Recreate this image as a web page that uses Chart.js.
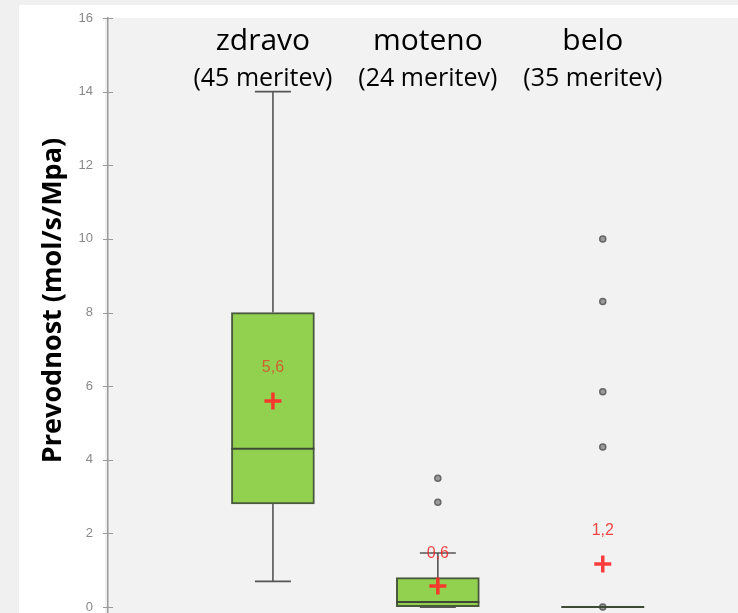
<!DOCTYPE html>
<html>
<head>
<meta charset="utf-8">
<script src="https://cdn.jsdelivr.net/npm/chart.js@4.4.0/dist/chart.umd.min.js"></script>
<style>
html, body { margin: 0; padding: 0; background: #f0f0f0; }
</style>
</head>
<body>
<canvas id="box" width="738" height="613"></canvas>
<script>
// skupine listov
var skupine = ["zdravo", "moteno", "belo"];
var meritve = ["(45 meritev)", "(24 meritev)", "(35 meritev)"];

// statistika za boxplot
var q1 = [2.8, 0, 0];
var mediana = [4.3, 0.14, 0];
var q3 = [8.0, 0.8, 0];
var brkSpodaj = [0.7, 0, 0];
var brkZgoraj = [14, 1.47, 0];
var povprecje = [5.6, 0.57, 1.17];
var osamelci = [[], [3.5, 2.85], [10, 8.3, 5.85, 4.35, 0]];

var yTicks = [0, 2, 4, 6, 8, 10, 12, 14, 16];

// risanje ozadja, brkov, median in napisov
var risalnik = {
    id: "risalnik",
    beforeDraw: function (chart) {
        var ctx = chart.ctx, a = chart.chartArea;
        ctx.save();
        ctx.fillStyle = "#f0f0f0";
        ctx.fillRect(0, 0, chart.width, chart.height);
        ctx.fillStyle = "#ffffff";
        ctx.fillRect(19, 5, chart.width - 19, a.top - 5);
        ctx.fillRect(19, 5, a.left - 22, chart.height - 5);
        ctx.fillStyle = "#f2f2f2";
        ctx.fillRect(a.left, a.top, a.right - a.left, a.bottom - a.top);
        ctx.restore();
    },
    beforeDatasetsDraw: function (chart) {
        var ctx = chart.ctx, x = chart.scales.x, y = chart.scales.y;
        ctx.save();
        ctx.strokeStyle = "#555555";
        ctx.lineWidth = 1.6;
        skupine.forEach(function (s, i) {
            var cx = x.getPixelForValue(i + 1);
            ctx.beginPath();
            ctx.moveTo(cx, y.getPixelForValue(brkZgoraj[i]));
            ctx.lineTo(cx, y.getPixelForValue(q3[i]));
            ctx.moveTo(cx, y.getPixelForValue(q1[i]));
            ctx.lineTo(cx, y.getPixelForValue(brkSpodaj[i]));
            [brkZgoraj[i], brkSpodaj[i]].forEach(function (v) {
                var py = y.getPixelForValue(v);
                ctx.moveTo(cx - 18, py);
                ctx.lineTo(cx + 18, py);
            });
            ctx.stroke();
        });
        ctx.restore();
    },
    afterDatasetsDraw: function (chart) {
        var ctx = chart.ctx, y = chart.scales.y;
        var meta = chart.getDatasetMeta(2);
        ctx.save();
        ctx.strokeStyle = "#3f4a36";
        ctx.lineWidth = 2;
        meta.data.forEach(function (bar, i) {
            var py = y.getPixelForValue(mediana[i]);
            ctx.beginPath();
            ctx.moveTo(bar.x - bar.width / 2, py);
            ctx.lineTo(bar.x + bar.width / 2, py);
            ctx.stroke();
        });
        ctx.restore();
    },
    afterDraw: function (chart) {
        var ctx = chart.ctx, a = chart.chartArea, x = chart.scales.x, y = chart.scales.y;
        ctx.save();
        // kljukice na osi
        ctx.strokeStyle = "#9a9a9a";
        ctx.lineWidth = 1;
        yTicks.forEach(function (v) {
            var py = Math.round(y.getPixelForValue(v)) + 0.5;
            ctx.beginPath();
            ctx.moveTo(a.left - 5, py);
            ctx.lineTo(a.left + 5, py);
            ctx.stroke();
        });
        // povprecja
        ctx.font = "16px 'Liberation Sans'";
        ctx.textAlign = "center";
        ctx.textBaseline = "middle";
        povprecje.forEach(function (v, i) {
            ctx.fillStyle = i === 0 ? "rgba(215,80,40,0.85)" : "rgba(235,40,40,0.85)";
            ctx.fillText(v.toFixed(1).replace(".", ","), x.getPixelForValue(i + 1), y.getPixelForValue(v) - 33);
        });
        // naslovi skupin
        ctx.fillStyle = "#000000";
        ctx.textBaseline = "alphabetic";
        skupine.forEach(function (s, i) {
            var cx = x.getPixelForValue(i + 1) - 10;
            ctx.font = "30px 'Open Sans'";
            ctx.fillText(s, cx, 50);
            ctx.font = "25px 'Open Sans'";
            ctx.fillText(meritve[i], cx, 86);
        });
        // naslov osi y
        ctx.translate(53, (a.top + a.bottom) / 2 - 15);
        ctx.rotate(-Math.PI / 2);
        ctx.font = "bold 27px 'Open Sans'";
        ctx.textBaseline = "middle";
        ctx.fillText("Prevodnost (mol/s/Mpa)", 0, 0);
        ctx.restore();
    }
};

var graf = new Chart(document.getElementById("box"), {
    type: "bar",
    data: {
        datasets: [{
            type: "scatter",
            label: "povprecje",
            order: 0,
            data: povprecje.map(function (v, i) { return { x: i + 1, y: v }; }),
            pointStyle: "cross",
            radius: 8.5,
            borderWidth: 3.5,
            borderColor: "rgba(255,40,40,0.9)",
            clip: false
        }, {
            type: "scatter",
            label: "osamelci",
            order: 1,
            data: osamelci.flatMap(function (arr, i) {
                return arr.map(function (v) { return { x: i + 1, y: v }; });
            }),
            pointStyle: "circle",
            radius: 3,
            borderWidth: 1.5,
            backgroundColor: "#9a9a9a",
            borderColor: "#666666",
            clip: false
        }, {
            type: "bar",
            label: "skatla",
            order: 2,
            data: skupine.map(function (s, i) { return { x: i + 1, y: [q1[i], q3[i]] }; }),
            barThickness: 83,
            backgroundColor: "#92d050",
            borderColor: "#4a5a3c",
            borderWidth: 2,
            borderSkipped: false,
            clip: false
        }]
    },
    options: {
        responsive: false,
        animation: false,
        layout: { autoPadding: false, padding: { left: 20, top: 18, right: 0, bottom: 0 } },
        plugins: {
            legend: { display: false },
            tooltip: { enabled: false }
        },
        scales: {
            x: {
                type: "linear",
                min: 0,
                max: 3.82,
                offset: false,
                display: false
            },
            y: {
                min: -0.16,
                max: 16,
                afterBuildTicks: function (s) {
                    s.ticks = yTicks.map(function (v) { return { value: v }; });
                },
                afterFit: function (s) {
                    s.width = 88;
                    s.paddingTop = 0;
                    s.paddingBottom = 0;
                },
                ticks: {
                    color: "#888888",
                    font: { size: 13, family: "'Liberation Sans'" },
                    padding: 15
                },
                grid: { drawOnChartArea: false, drawTicks: false },
                border: { display: true, color: "#9a9a9a", width: 1.5 }
            }
        }
    },
    plugins: [risalnik]
});
</script>
</body>
</html>
